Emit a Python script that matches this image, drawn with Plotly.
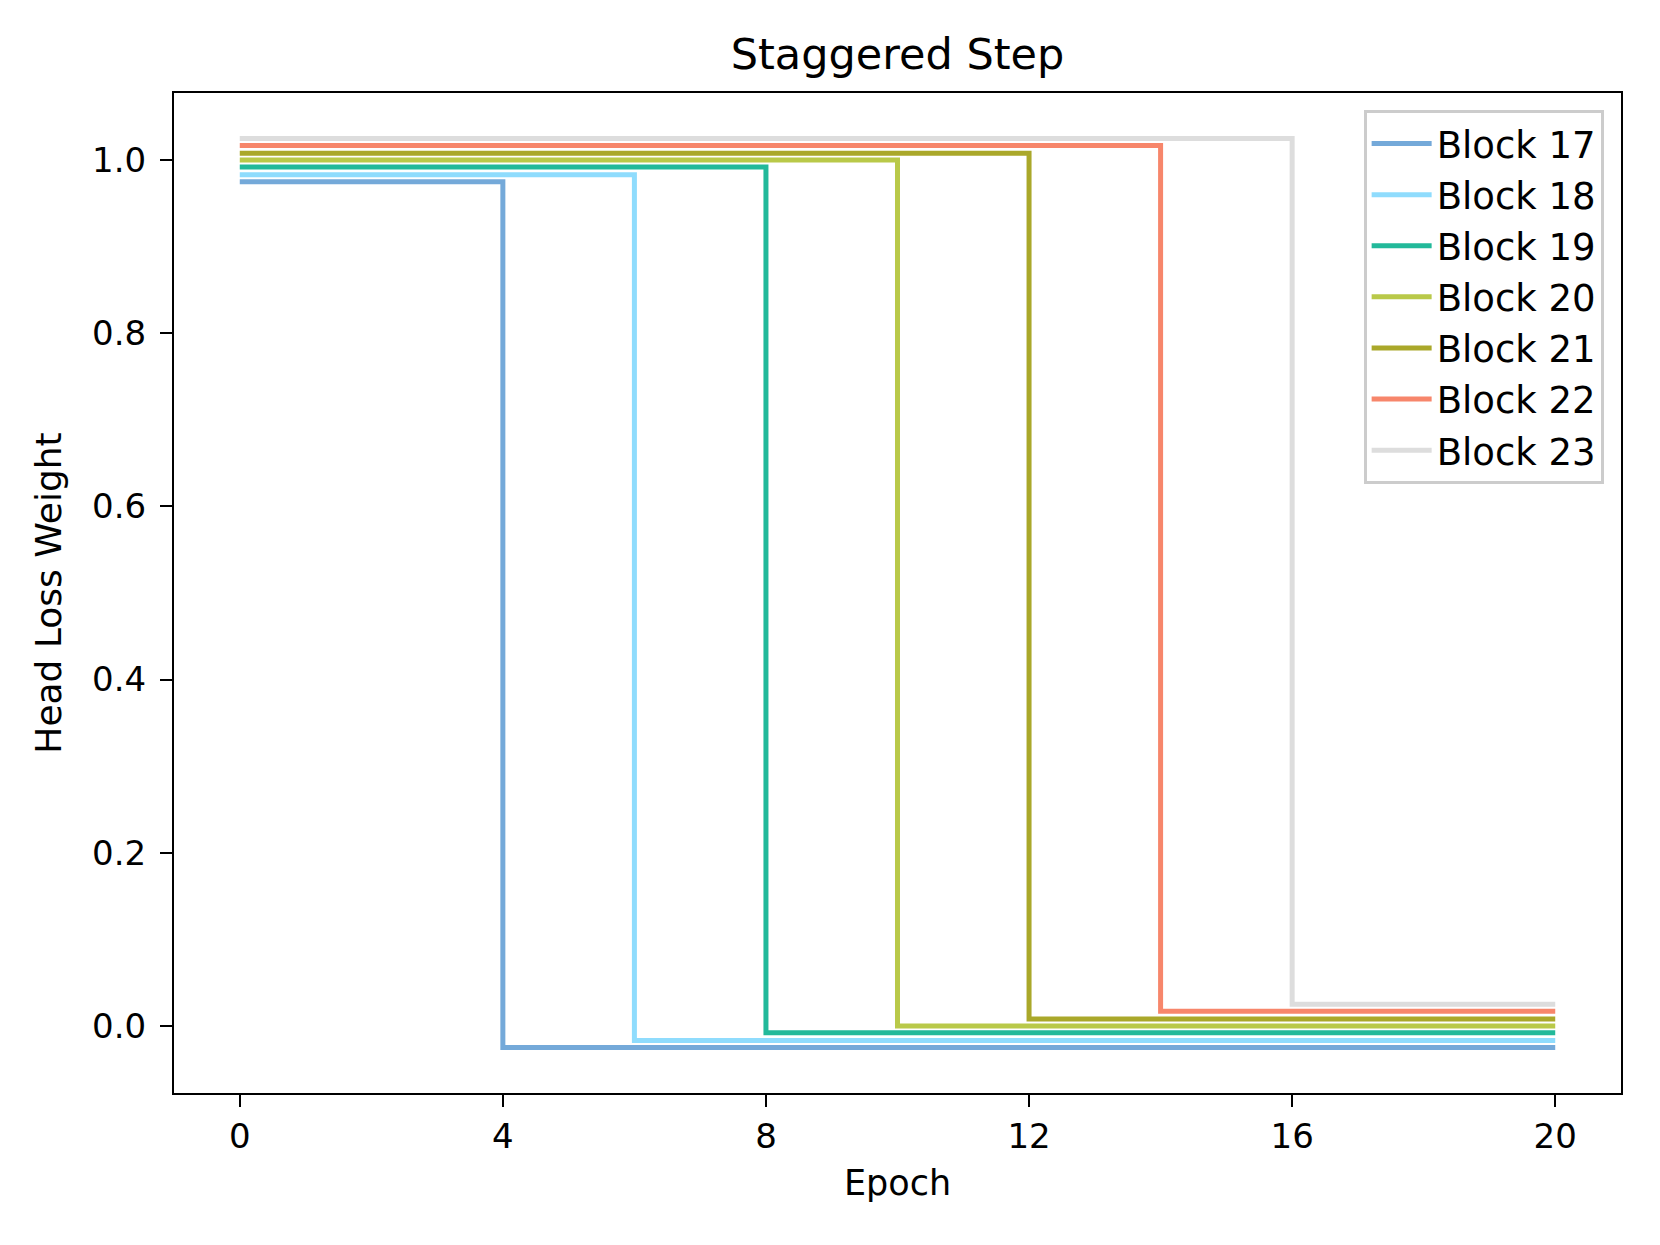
import plotly.graph_objects as go

# --- data -------------------------------------------------------------
blocks = ["Block 17", "Block 18", "Block 19", "Block 20", "Block 21", "Block 22", "Block 23"]
drop_epoch = [4, 6, 8, 10, 12, 14, 16]
high_weight = [0.975, 0.983, 0.992, 1.000, 1.008, 1.017, 1.025]
low_weight = [-0.025, -0.017, -0.008, 0.000, 0.008, 0.017, 0.025]
last_epoch = 20
colors = ["#74a9d9", "#8fdcfd", "#22b99a", "#b9c949", "#aaa82a", "#f7866b", "#dddddd"]

FONT = "DejaVu Sans"

fig = go.Figure()
for name, d, hi, lo, c in zip(blocks, drop_epoch, high_weight, low_weight, colors):
    xs = [0, d, last_epoch]
    ys = [hi, lo, lo]
    # thin white edge under each line, like the original stroke effect
    fig.add_trace(go.Scatter(x=xs, y=ys, mode="lines", line=dict(color="white", width=7, shape="hv"),
                             showlegend=False, hoverinfo="skip"))
    fig.add_trace(go.Scatter(x=xs, y=ys, mode="lines", name=name,
                             line=dict(color=c, width=5, shape="hv")))

axis_common = dict(
    showline=True, mirror=True, linecolor="black", linewidth=2,
    ticks="outside", ticklen=12, tickwidth=2, tickcolor="black",
    showgrid=False, zeroline=False,
    tickfont=dict(family=FONT, size=34, color="black"),
)

fig.update_layout(
    width=1660, height=1245,
    paper_bgcolor="white", plot_bgcolor="white",
    margin=dict(l=166, r=47, t=85, b=160),
    font=dict(family=FONT, color="black"),
    title=dict(text="Staggered Step", x=0.5, xref="paper", xanchor="center",
               y=0.963, yref="container", yanchor="middle",
               font=dict(family=FONT, size=43, color="black")),
    xaxis=dict(range=[-1, 21], tickvals=[0, 4, 8, 12, 16, 20],
               title=dict(text="Epoch", font=dict(family=FONT, size=35), standoff=16),
               **axis_common),
    yaxis=dict(range=[-0.0775, 1.0775], tickvals=[0, 0.2, 0.4, 0.6, 0.8, 1.0], tickformat=".1f",
               ticklabelstandoff=7,
               title=dict(text="Head Loss Weight", font=dict(family=FONT, size=36), standoff=20),
               **axis_common),
    legend=dict(x=0.988, y=0.983, xanchor="right", yanchor="top",
                bgcolor="white", bordercolor="#cccccc", borderwidth=3,
                font=dict(family=FONT, size=37, color="black"),
                itemwidth=60, tracegroupgap=0),
)

fig.write_html("out.html")
